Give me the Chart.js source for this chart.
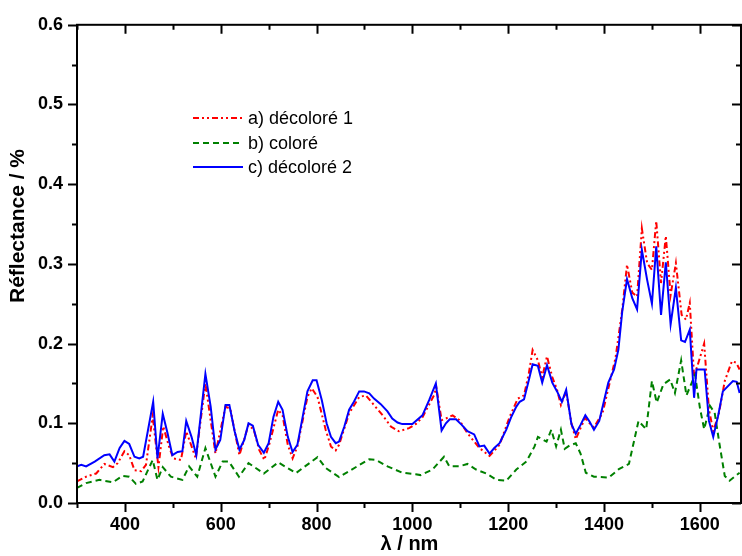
<!DOCTYPE html>
<html>
<head>
<meta charset="utf-8">
<script src="https://cdn.jsdelivr.net/npm/chart.js@4"></script>
<style>
  html, body { margin: 0; padding: 0; background: #fff; }
  #wrap { width: 742px; height: 556px; }
</style>
</head>
<body>
<div id="wrap"><canvas id="spectra"></canvas></div>
<script>
// a) décoloré 1
let wlA = [300,319,340,357,375,385,399,409,420,434,444,458,470,480,492,501,517,528,548,568,589,610,620,639,658,669,680,691,701,720,729,740,750,760,781,790,802,819,830,840,847,868,889,903,917,938,955,972,993,1007,1021,1045,1050,1061,1070,1084,1098,1115,1140,1161,1182,1203,1220,1233,1243,1251,1262,1271,1281,1292,1302,1310,1321,1332,1341,1351,1361,1370,1379,1397,1424,1438,1448,1459,1469,1479,1490,1500,1509,1519,1529,1539,1550,1562,1571,1579,1588,1597,1609,1619,1628,1640,1652,1667,1676,1683];
let refA = [0.027,0.033,0.037,0.049,0.045,0.050,0.065,0.060,0.041,0.040,0.048,0.109,0.045,0.096,0.071,0.056,0.054,0.090,0.056,0.150,0.062,0.121,0.118,0.060,0.098,0.092,0.067,0.054,0.073,0.117,0.110,0.073,0.056,0.071,0.133,0.144,0.133,0.092,0.071,0.066,0.073,0.1125,0.133,0.135,0.125,0.110,0.096,0.090,0.094,0.099,0.1075,0.135,0.145,0.104,0.106,0.110,0.104,0.0875,0.069,0.059,0.073,0.108,0.131,0.135,0.1625,0.192,0.179,0.158,0.184,0.158,0.142,0.123,0.140,0.100,0.080,0.094,0.107,0.100,0.095,0.113,0.182,0.2425,0.299,0.264,0.259,0.3445,0.301,0.2925,0.354,0.276,0.335,0.261,0.301,0.236,0.230,0.251,0.159,0.176,0.200,0.1175,0.090,0.113,0.153,0.178,0.176,0.1675];

// b) coloré
let wlB = [300,319,347,375,395,409,423,437,458,468,479,496,520,534,551,568,589,604,617,638,658,690,720,757,802,819,847,868,910,924,948,979,1007,1017,1042,1066,1077,1098,1115,1133,1154,1176,1196,1217,1238,1255,1262,1280,1290,1300,1310,1318,1328,1341,1351,1362,1379,1410,1431,1452,1472,1488,1500,1510,1524,1538,1548,1561,1572,1590,1600,1609,1621,1631,1641,1652,1662,1683];
let refB = [0.019,0.025,0.029,0.026,0.034,0.033,0.024,0.027,0.054,0.029,0.045,0.033,0.029,0.046,0.033,0.069,0.033,0.052,0.052,0.033,0.050,0.037,0.051,0.0375,0.0575,0.044,0.0325,0.040,0.055,0.054,0.046,0.038,0.036,0.035,0.042,0.058,0.046,0.046,0.049,0.042,0.037,0.029,0.028,0.042,0.052,0.071,0.083,0.077,0.092,0.071,0.092,0.068,0.072,0.075,0.062,0.038,0.033,0.032,0.0425,0.049,0.103,0.0925,0.153,0.126,0.149,0.155,0.138,0.179,0.135,0.161,0.120,0.0925,0.122,0.113,0.074,0.034,0.028,0.038];

// c) décoloré 2
let wlC = [300,309,319,337,357,368,378,389,399,409,420,430,438,459,468,479,489,499,510,520,528,539,549,568,579,589,599,610,618,629,639,649,658,667,678,690,700,710,720,729,740,750,760,771,781,792,800,811,821,830,840,847,858,868,878,889,899,910,920,934,948,958,969,979,1000,1021,1035,1049,1061,1070,1078,1091,1103,1115,1129,1140,1150,1161,1171,1182,1196,1206,1217,1224,1233,1243,1251,1262,1271,1281,1292,1302,1312,1321,1332,1341,1351,1361,1370,1379,1390,1409,1421,1430,1438,1448,1459,1469,1479,1490,1500,1509,1519,1529,1539,1550,1561,1569,1579,1588,1593,1610,1619,1628,1638,1648,1669,1677,1683];
let refC = [0.046,0.048,0.046,0.052,0.060,0.061,0.052,0.069,0.078,0.074,0.058,0.056,0.058,0.127,0.056,0.112,0.0875,0.060,0.064,0.065,0.103,0.083,0.060,0.162,0.121,0.067,0.079,0.123,0.123,0.090,0.067,0.079,0.100,0.097,0.073,0.063,0.075,0.108,0.127,0.117,0.083,0.064,0.073,0.108,0.140,0.154,0.154,0.129,0.100,0.083,0.075,0.077,0.096,0.117,0.127,0.140,0.140,0.1375,0.131,0.124,0.115,0.106,0.101,0.099,0.099,0.110,0.129,0.150,0.091,0.100,0.105,0.105,0.098,0.090,0.086,0.071,0.072,0.062,0.069,0.075,0.092,0.1075,0.121,0.127,0.130,0.154,0.174,0.172,0.151,0.173,0.151,0.140,0.127,0.142,0.099,0.087,0.098,0.110,0.102,0.092,0.103,0.151,0.1675,0.1925,0.240,0.281,0.257,0.243,0.3175,0.280,0.250,0.322,0.236,0.302,0.224,0.270,0.204,0.202,0.2175,0.132,0.1675,0.1675,0.103,0.083,0.109,0.140,0.153,0.152,0.138];

let seriesNames = ["a) décoloré 1", "b) coloré", "c) décoloré 2"];
let seriesColors = ["#ff0000", "#008000", "#0000ff"];
let seriesDash = [[6, 3, 2, 3, 2, 3], [6, 4], []];
let yTitle = "Réflectance / %";

function pts(xs, ys) {
  return xs.map((x, i) => ({ x: x, y: ys[i] }));
}

let fam = "'Liberation Sans', Arial, sans-serif";

// frame + ticks like the original plot, y title and the legend inside it
let frame = {
  id: "frame",
  afterDraw(chart) {
    let ctx = chart.ctx, a = chart.chartArea;
    let sx = chart.scales.x, sy = chart.scales.y;
    ctx.save();
    ctx.strokeStyle = "#000";
    ctx.lineWidth = 2;
    ctx.strokeRect(a.left, a.top, a.right - a.left - 1, a.bottom - a.top);
    ctx.beginPath();
    for (let v = 300; v <= sx.max; v += 100) {
      let px = Math.round(sx.getPixelForValue(v)) + 0.5;
      let len = v % 200 === 0 ? 9 : 5;
      ctx.moveTo(px, a.bottom); ctx.lineTo(px, a.bottom + len);
      ctx.moveTo(px, a.top); ctx.lineTo(px, a.top + len);
    }
    for (let k = 0; k <= 12; k++) {
      let py = Math.round(sy.getPixelForValue(k * 0.05)) + 0.5;
      let len = k % 2 === 0 ? 9 : 5;
      ctx.moveTo(a.left, py); ctx.lineTo(a.left - len, py);
      ctx.moveTo(a.right - 1, py); ctx.lineTo(a.right - 1 - len, py);
    }
    ctx.stroke();

    // y title, sits a little above the middle as in the original
    ctx.save();
    ctx.translate(18, 226);
    ctx.rotate(-Math.PI / 2);
    ctx.font = "bold 21px " + fam;
    ctx.fillStyle = "#000";
    ctx.textAlign = "center";
    ctx.textBaseline = "middle";
    ctx.fillText(yTitle, 0, 0);
    ctx.restore();

    ctx.font = "18px " + fam;
    ctx.textBaseline = "middle";
    [118, 143, 167].forEach((y, i) => {
      ctx.strokeStyle = seriesColors[i];
      ctx.lineWidth = 2;
      ctx.setLineDash(seriesDash[i]);
      ctx.beginPath();
      ctx.moveTo(193, y); ctx.lineTo(243, y);
      ctx.stroke();
      ctx.setLineDash([]);
      ctx.fillStyle = "#000";
      ctx.fillText(seriesNames[i], 248, y + 1);
    });
    ctx.restore();
  }
};

let ds = [pts(wlA, refA), pts(wlB, refB), pts(wlC, refC)].map((d, i) => ({
  label: seriesNames[i],
  data: d,
  borderColor: seriesColors[i],
  borderDash: seriesDash[i],
  borderWidth: 2,
  pointRadius: 0,
  tension: 0,
  fill: false,
  order: [2, 1, 0][i]
}));

let tickFont = { family: fam, weight: "bold", size: 18 };

new Chart("spectra", {
  type: "line",
  data: { datasets: ds },
  plugins: [frame],
  options: {
    responsive: true,
    maintainAspectRatio: false,
    animation: false,
    layout: { padding: { top: 20, right: 0, left: 0, bottom: 0 } },
    plugins: { legend: { display: false }, tooltip: { enabled: false } },
    scales: {
      x: {
        type: "linear",
        min: 300,
        max: 1688,
        afterBuildTicks: (s) => {
          let t = [];
          for (let v = 400; v <= 1600; v += 200) t.push({ value: v });
          s.ticks = t;
        },
        afterFit: (s) => { s.height = 53; },
        grid: { display: false, drawTicks: false },
        border: { display: false },
        ticks: { color: "#000", font: tickFont, padding: 11, maxRotation: 0, callback: (v) => String(v) },
        title: {
          display: true, text: "λ / nm", color: "#000",
          font: { family: fam, weight: "bold", size: 20 },
          padding: { top: 0, bottom: 0 }
        }
      },
      y: {
        min: 0,
        max: 0.6,
        afterBuildTicks: (s) => {
          let t = [];
          for (let k = 0; k <= 6; k++) t.push({ value: k / 10 });
          s.ticks = t;
        },
        afterFit: (s) => { s.width = 77; },
        grid: { display: false, drawTicks: false },
        border: { display: false },
        ticks: { color: "#000", font: tickFont, padding: 14, callback: (v) => v.toFixed(1) },
        title: { display: false }
      }
    }
  }
});
</script>
</body>
</html>
